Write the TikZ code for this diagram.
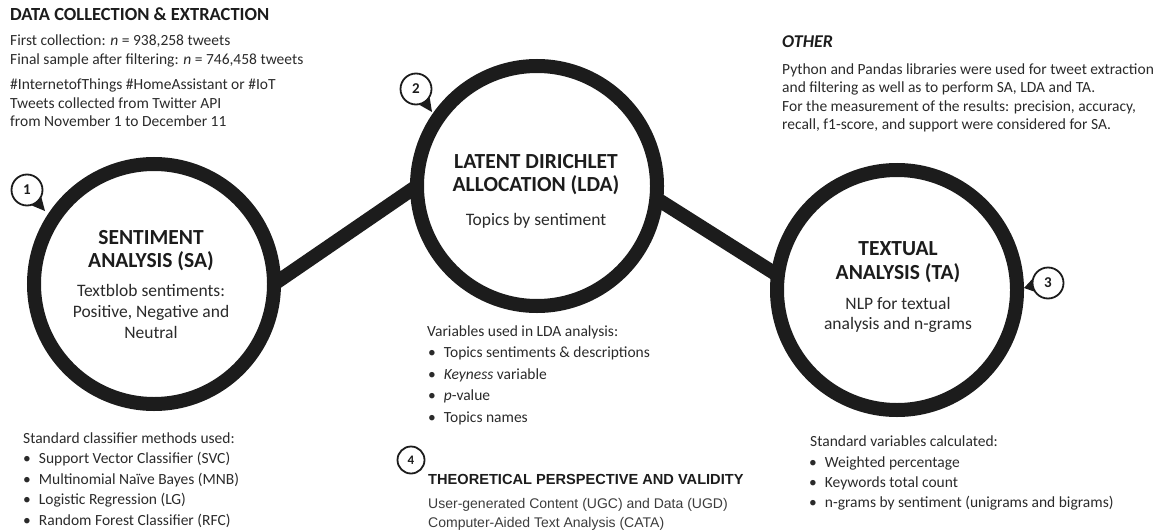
\documentclass[tikz,border=0pt]{standalone}
\usepackage{fontspec}
\setmainfont{Carlito}
\newfontfamily\arialf{Liberation Sans}
\definecolor{ink}{HTML}{1C1C1C}
\definecolor{txt}{HTML}{2A2A2A}
\definecolor{gtxt}{HTML}{3C3C3C}
\begin{document}
\begin{tikzpicture}[x=1pt,y=-1pt,
  ring/.style={circle,draw=ink,line width=14pt,minimum size=240pt,inner sep=0pt,outer sep=0pt},
  link/.style={draw=ink,line width=14pt},
  badge/.style={circle,draw=ink,line width=1.8pt,fill=white,minimum size=31pt,inner sep=0pt,
    font=\fontsize{15}{15}\selectfont\bfseries,text=ink},
  bl/.style={anchor=base west,inner sep=0pt,text=txt,font=\fontsize{15.5}{18}\selectfont},
  hd/.style={anchor=base west,inner sep=0pt,text=ink,font=\fontsize{18.5}{22}\selectfont\bfseries},
  ctitle/.style={anchor=base,inner sep=0pt,text=ink,font=\fontsize{21.5}{26}\selectfont\bfseries},
  cbody/.style={anchor=base,inner sep=0pt,text=txt,font=\fontsize{17.5}{21}\selectfont},
  thd/.style={anchor=base west,inner sep=0pt,text=ink,font=\arialf\bfseries\fontsize{14.6}{17}\selectfont},
  tbody/.style={anchor=base west,inner sep=0pt,text=gtxt,font=\arialf\fontsize{14}{17}\selectfont},
  item/.style={bl,execute at begin node={\textbullet\hspace{8pt}}}
]
\useasboundingbox (0,0) rectangle (1161,532);

% main circles
\node[ring] (c1) at (154,284) {};
\node[ring] (c2) at (537,186) {};
\node[ring] (c3) at (897,290) {};
\draw[link] (c1.0) -- (c2.180);
\draw[link] (c2.-6) -- (c3.173);

% circle texts
\node[ctitle] (t1a) at (151,244) {SENTIMENT};
\node[ctitle] (t1b) at (151,267) {ANALYSIS (SA)};
\node[cbody] (t1c) at (151,296) {Textblob sentiments:};
\node[cbody] (t1d) at (151,317.5) {Positive, Negative and};
\node[cbody] (t1e) at (151,338.5) {Neutral};

\node[ctitle] (t2a) at (536,168) {LATENT DIRICHLET};
\node[ctitle] (t2b) at (536,191.5) {ALLOCATION (LDA)};
\node[cbody] (t2c) at (536,225) {Topics by sentiment};

\node[ctitle] (t3a) at (898,255) {TEXTUAL};
\node[ctitle] (t3b) at (898,279) {ANALYSIS (TA)};
\node[cbody] (t3c) at (898,309) {NLP for textual};
\node[cbody] (t3d) at (898,329.5) {analysis and n-grams};

% badges
\node[badge] (b1) at (27,190) {1};
\coordinate (b1t) at (45,211);
\fill[ink] (b1.-28) -- (b1t) -- (b1.-72) -- cycle;
\node[badge] (b2) at (416,89) {2};
\coordinate (b2t) at (432,112);
\fill[ink] (b2.-33) -- (b2t) -- (b2.-77) -- cycle;
\node[badge] (b3) at (1048,283) {3};
\coordinate (b3t) at (1024,288);
\fill[ink] (b3.167) -- (b3t) -- (b3.211) -- cycle;
\node[badge,minimum size=27pt,font=\fontsize{13}{13}\selectfont\bfseries] (b4) at (411,460) {4};

% data collection block
\node[hd] (dh) at (10,21) {DATA COLLECTION \& EXTRACTION};
\node[bl] (d1) at (10,46) {First collection: \textit{n} = 938,258 tweets};
\node[bl] (d2) at (10,64.5) {Final sample after filtering: \textit{n} = 746,458 tweets};
\node[bl] (d3) at (10,90) {\#InternetofThings \#HomeAssistant or \#IoT};
\node[bl] (d4) at (10,108.5) {Tweets collected from Twitter API};
\node[bl] (d5) at (10,127) {from November 1 to December 11};

% other block
\node[hd,font=\fontsize{18}{21}\selectfont\bfseries\itshape] (oh) at (782,48) {OTHER};
\node[bl] (o1) at (782,74.5) {Python and Pandas libraries were used for tweet extraction};
\node[bl] (o2) at (782,93) {and filtering as well as to perform SA, LDA and TA.};
\node[bl] (o3) at (782,111.5) {For the measurement of the results: precision, accuracy,};
\node[bl] (o4) at (782,130) {recall, f1-score, and support were considered for SA.};

% SA list
\node[bl] (sh) at (23,443) {Standard classifier methods used:};
\node[item] (s1) at (23,463.5) {Support Vector Classifier (SVC)};
\node[item] (s2) at (23,484) {Multinomial Naïve Bayes (MNB)};
\node[item] (s3) at (23,504.5) {Logistic Regression (LG)};
\node[item] (s4) at (23,525) {Random Forest Classifier (RFC)};

% LDA list
\node[bl] (lh) at (427,336) {Variables used in LDA analysis:};
\node[item] (l1) at (428,357.5) {Topics sentiments \& descriptions};
\node[item] (l2) at (428,379) {\textit{Keyness} variable};
\node[item] (l3) at (428,400.5) {\textit{p}-value};
\node[item] (l4) at (428,422) {Topics names};

% TA list
\node[bl] (ah) at (810,446) {Standard variables calculated:};
\node[item] (a1) at (809,467) {Weighted percentage};
\node[item] (a2) at (809,487) {Keywords total count};
\node[item] (a3) at (809,507) {n-grams by sentiment (unigrams and bigrams)};

% theoretical block
\node[thd] (th) at (428,484.5) {THEORETICAL PERSPECTIVE AND VALIDITY};
\node[tbody] (th1) at (428,508) {User-generated Content (UGC) and Data (UGD)};
\node[tbody] (th2) at (428,527) {Computer-Aided Text Analysis (CATA)};
\end{tikzpicture}
\end{document}
